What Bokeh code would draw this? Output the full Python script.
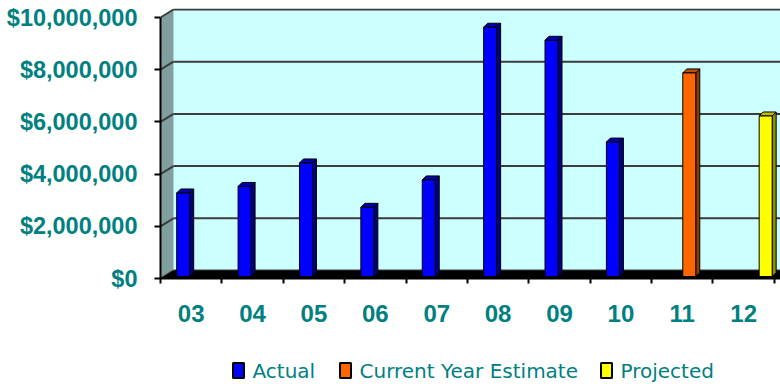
from bokeh.plotting import figure
from bokeh.layouts import column
from bokeh.models import Range1d, FixedTicker, NumeralTickFormatter
from bokeh.core.properties import value
from bokeh.embed import file_html
from bokeh.resources import INLINE

# ---- data ----
categories = ["03", "04", "05", "06", "07", "08", "09", "10", "11", "12"]
actual = [3.2e6, 3.45e6, 4.35e6, 2.65e6, 3.7e6, 9.55e6, 9.05e6, 5.15e6, 0, 0]
current_estimate = [0, 0, 0, 0, 0, 0, 0, 0, 7.8e6, 0]
projected = [0, 0, 0, 0, 0, 0, 0, 0, 0, 6.15e6]
series_names = ["Actual", "Current Year Estimate", "Projected"]
y_ticks = [0, 2e6, 4e6, 6e6, 8e6, 10e6]

# ---- styles ----
front_colors = ["#0000FF", "#FF6600", "#FFFF00"]
side_colors = ["#000080", "#8F3A00", "#8F8F00"]
top_colors = ["#0000B0", "#C04E00", "#C0C000"]
TEAL = "#008080"

W = 780
H_MAIN, H_LEG = 340, 44
B_LEFT, B_TOP, B_RIGHT, B_BOTTOM = 160, 8, 0, 62
frame_w = W - B_LEFT - B_RIGHT
frame_h = H_MAIN - B_TOP - B_BOTTOM
X_END = 10.1
Y_END = 10.345e6
px_x = frame_w / X_END
px_y = frame_h / Y_END


def ux(px):
    return px / px_x


def uy(px):
    return px / px_y


WX, WY = ux(13), uy(8)        # depth offset of back wall
LIFT = uy(2)                  # bars sit slightly behind the floor front edge
BW = ux(13)                   # bar front width
DX, DY = ux(4), uy(4)         # bar depth
offsets = [ux(-8), ux(7), ux(22)]

p = figure(width=W, height=H_MAIN, output_backend="svg", toolbar_location=None,
           x_range=Range1d(0, X_END), y_range=Range1d(0, Y_END),
           min_border_left=B_LEFT, min_border_top=B_TOP,
           min_border_right=B_RIGHT, min_border_bottom=B_BOTTOM)
p.extra_y_ranges = {"bars": Range1d(-LIFT, Y_END - LIFT)}
p.outline_line_color = None
p.background_fill_color = "white"
p.border_fill_color = "white"
p.xgrid.visible = False
p.ygrid.visible = False

# back wall
p.patch([WX, X_END, X_END, WX], [WY, WY, Y_END, Y_END],
        fill_color="#CCFFFF", line_color=None)
# side wall
p.patch([0, WX, WX, 0], [0, WY, Y_END, y_ticks[-1]],
        fill_color="#80A0A0", line_color=None)
# gridlines on back wall and side wall
p.segment(x0=[WX] * len(y_ticks), y0=[t + WY for t in y_ticks],
          x1=[X_END] * len(y_ticks), y1=[t + WY for t in y_ticks],
          line_color="#3C3C3C", line_width=2)
p.segment(x0=[0] * len(y_ticks), y0=y_ticks,
          x1=[WX] * len(y_ticks), y1=[t + WY for t in y_ticks],
          line_color="#3C3C3C", line_width=2)
# floor
p.patch([0, X_END, X_END, WX], [0, 0, WY, WY], fill_color="black", line_color=None)

# bars
series = [actual, current_estimate, projected]
for s, vals in enumerate(series):
    xs, tops = [], []
    side_xs, side_ys, top_xs, top_ys = [], [], [], []
    for i, v in enumerate(vals):
        if v <= 0:
            continue
        cx = i + 0.5 + offsets[s]
        l, r = cx - BW / 2, cx + BW / 2
        xs.append(cx)
        tops.append(v)
        side_xs.append([r, r + DX, r + DX, r])
        side_ys.append([0, DY, v + DY, v])
        top_xs.append([l, r, r + DX, l + DX])
        top_ys.append([v, v, v + DY, v + DY])
    p.patches(side_xs, side_ys, fill_color=side_colors[s], line_color="black",
              line_width=1, y_range_name="bars")
    p.patches(top_xs, top_ys, fill_color=top_colors[s], line_color="black",
              line_width=1, y_range_name="bars")
    p.vbar(x=xs, top=tops, bottom=0, width=BW, fill_color=front_colors[s],
           line_color="black", line_width=1, y_range_name="bars")

# y axis
ya = p.yaxis[0]
ya.ticker = FixedTicker(ticks=y_ticks)
ya.formatter = NumeralTickFormatter(format="$0,0")
ya.bounds = (0, y_ticks[-1])
ya.axis_line_color = "black"
ya.axis_line_width = 2
ya.major_tick_line_color = "black"
ya.major_tick_line_width = 2
ya.major_tick_out = 6
ya.major_tick_in = 0
ya.minor_tick_line_color = None
ya.major_label_standoff = 17
ya.major_label_text_font = "Liberation Sans"
ya.major_label_text_font_style = "bold"
ya.major_label_text_font_size = "23.5px"
ya.major_label_text_color = TEAL

# x axis
xa = p.xaxis[0]
xa.ticker = FixedTicker(ticks=[i + 0.5 for i in range(len(categories))],
                        minor_ticks=list(range(len(categories) + 1)))
xa.major_label_overrides = {i + 0.5: c for i, c in enumerate(categories)}
xa.axis_line_color = "black"
xa.axis_line_width = 2
xa.major_tick_line_color = None
xa.major_tick_out = 0
xa.major_tick_in = 0
xa.minor_tick_line_color = "black"
xa.minor_tick_line_width = 2
xa.minor_tick_out = 5
xa.minor_tick_in = 0
xa.major_label_standoff = 21
xa.major_label_text_font = "Liberation Sans"
xa.major_label_text_font_style = "bold"
xa.major_label_text_font_size = "24px"
xa.major_label_text_color = TEAL

# ---- legend strip (pixel coordinates, frame aligned with the main plot) ----
leg = figure(width=W, height=H_LEG, output_backend="svg", toolbar_location=None,
             x_range=Range1d(B_LEFT, W - B_RIGHT), y_range=Range1d(0, H_LEG),
             x_axis_type=None, y_axis_type=None,
             min_border_left=B_LEFT, min_border_right=B_RIGHT,
             min_border_top=0, min_border_bottom=0)
leg.outline_line_color = None
leg.xgrid.visible = False
leg.ygrid.visible = False
leg_x = [238, 345, 606]     # swatch centres
leg_y = 14
leg.rect(x=leg_x, y=[leg_y] * 3, width=11, height=15, fill_color=front_colors,
         line_color="black", line_width=2)
leg.text(x=[x + 14 for x in leg_x], y=[leg_y] * 3, text=series_names,
         text_font=value("DejaVu Sans"), text_font_size="20px",
         text_color=TEAL, text_baseline="middle", text_align="left")

layout = column(p, leg, spacing=0)
open("out.html", "w").write(file_html(layout, INLINE))
